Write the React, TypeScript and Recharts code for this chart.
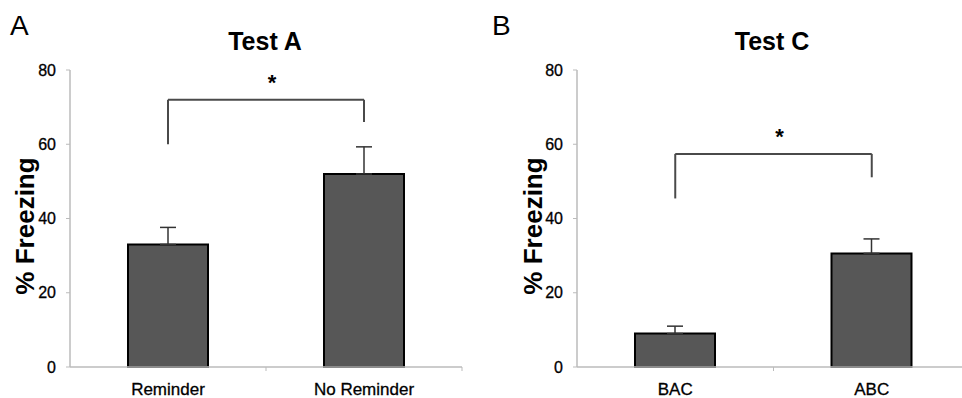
import React from 'react';
import { BarChart, Bar, XAxis, YAxis, ErrorBar, ReferenceLine } from 'recharts';

// Panel A: Test A
const groupsA = ['Reminder', 'No Reminder'];
const meansA = [33, 52];
const semA = [4.6, 7.3];
// bracket: [left end, top, right end] in % freezing
const bracketA = [60, 72, 66];

// Panel B: Test C
const groupsB = ['BAC', 'ABC'];
const meansB = [9, 30.6];
const semB = [2.0, 3.9];
const bracketB = [45.4, 57.4, 51.1];

const yTicks = [0, 20, 40, 60, 80];
const FONT = '"Liberation Sans", Arial, Helvetica, sans-serif';

const build = (groups: string[], means: number[], sems: number[]) =>
  groups.map((g, i) => ({ group: g, value: means[i], err: [0, sems[i]] }));

const dataA = build(groupsA, meansA, semA);
const dataB = build(groupsB, meansB, semB);

const XTick = (props: any) => {
  const { x, y, payload } = props;
  const off = payload && typeof payload.offset === 'number' ? payload.offset : null;
  return (
    <g>
      {off !== null && (
        <line x1={x + off} x2={x + off} y1={y} y2={y + 4} stroke="#bbb" strokeWidth={1} />
      )}
      <text x={x} y={y + 28} textAnchor="middle" fontSize={17} fontFamily={FONT} fill="#000" stroke="#000" strokeWidth={0.3}>
        {payload.value}
      </text>
    </g>
  );
};

type PanelProps = {
  data: any[];
  groups: string[];
  bracket: number[];
  yAxisWidth: number;
  width: number;
  right: number;
};

const Panel = ({ data, groups, bracket, yAxisWidth, width, right }: PanelProps) => (
  <BarChart
    width={width}
    height={398}
    data={data}
    margin={{ top: 70, right, bottom: 6, left: 0 }}
    barCategoryGap={0}
  >
    <XAxis
      dataKey="group"
      height={25}
      axisLine={{ stroke: '#bbb', strokeWidth: 1.5 }}
      tickLine={false}
      tickSize={0}
      tickMargin={0}
      tick={<XTick />}
      interval={0}
    />
    <YAxis
      width={yAxisWidth}
      domain={[0, 80]}
      ticks={yTicks}
      axisLine={{ stroke: '#bbb', strokeWidth: 1.5 }}
      tickLine={{ stroke: '#bbb' }}
      tickSize={4}
      tickMargin={10}
      tick={{ fontSize: 16, fontFamily: FONT, fill: '#000', stroke: '#000', strokeWidth: 0.3 }}
    />
    <Bar dataKey="value" fill="#575757" stroke="#000" strokeWidth={2} barSize={80} isAnimationActive={false}>
      <ErrorBar dataKey="err" width={8} stroke="#333" strokeWidth={1.5} isAnimationActive={false} />
    </Bar>
    <ReferenceLine
      segment={[{ x: groups[0], y: bracket[0] }, { x: groups[0], y: bracket[1] }]}
      stroke="#4a4a4a"
      strokeWidth={2}
    />
    <ReferenceLine
      segment={[{ x: groups[0], y: bracket[1] }, { x: groups[1], y: bracket[1] }]}
      stroke="#4a4a4a"
      strokeWidth={2}
      label={{ value: '*', position: 'top', offset: 10, dx: 6, fontSize: 22, fontWeight: 'bold', fontFamily: FONT, fill: '#000' }}
    />
    <ReferenceLine
      segment={[{ x: groups[1], y: bracket[2] }, { x: groups[1], y: bracket[1] }]}
      stroke="#4a4a4a"
      strokeWidth={2}
    />
  </BarChart>
);

export default function App() {
  return (
    <div style={{ position: 'absolute', left: 0, top: 0, width: 962, height: 398, overflow: 'hidden', background: '#fff' }}>
      <div style={{ position: 'absolute', left: 0, top: 0 }}>
        <Panel data={dataA} groups={groupsA} bracket={bracketA} yAxisWidth={70} width={480} right={18} />
      </div>
      <div style={{ position: 'absolute', left: 480, top: 0 }}>
        <Panel data={dataB} groups={groupsB} bracket={bracketB} yAxisWidth={97} width={490} right={0} />
      </div>
      <svg width={962} height={398} style={{ position: 'absolute', left: 0, top: 0, pointerEvents: 'none' }}>
        <text x={10} y={35} fontSize={28} fontFamily={FONT} fill="#000">A</text>
        <text x={492} y={35} fontSize={28} fontFamily={FONT} fill="#000">B</text>
        <text x={265} y={50} textAnchor="middle" fontSize={25} fontWeight="bold" fontFamily={FONT} fill="#000">Test A</text>
        <text x={772} y={50} textAnchor="middle" fontSize={25} fontWeight="bold" fontFamily={FONT} fill="#000">Test C</text>
        <text transform="translate(34,226) rotate(-90)" textAnchor="middle" fontSize={26} fontWeight="bold" fontFamily={FONT} fill="#000">% Freezing</text>
        <text transform="translate(542,226) rotate(-90)" textAnchor="middle" fontSize={26} fontWeight="bold" fontFamily={FONT} fill="#000">% Freezing</text>
      </svg>
    </div>
  );
}
